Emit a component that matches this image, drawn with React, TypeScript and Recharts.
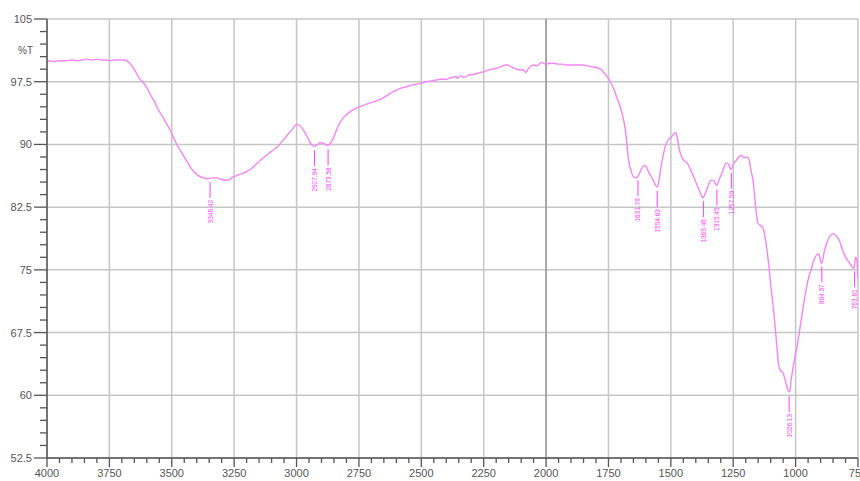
import React from "react"
import { ComposedChart, Line, Scatter, XAxis, YAxis, CartesianGrid, ReferenceLine } from "recharts"

// wavenumber (cm-1) and transmittance (%T)
const wavenumbers = [
  4000, 3975, 3950, 3925, 3900, 3880, 3860, 3840, 3820, 3800, 3780, 3760, 3750, 3730, 3710, 3690,
  3675, 3660, 3645, 3630, 3615, 3600, 3585, 3570, 3555, 3540, 3525, 3506, 3490, 3478, 3460, 3440,
  3426, 3410, 3395, 3374, 3355, 3340, 3318, 3300, 3278, 3265, 3254, 3230, 3210, 3197, 3170, 3145,
  3120, 3100, 3077, 3057, 3037, 3017, 3005, 2997, 2985, 2970, 2957, 2945, 2933, 2920, 2905, 2890,
  2878, 2868, 2855, 2844, 2830, 2812, 2790, 2770, 2756, 2730, 2700, 2680, 2664, 2640, 2620, 2600,
  2584, 2560, 2540, 2520, 2503, 2480, 2460, 2440, 2423, 2400, 2380, 2360, 2355, 2345, 2330, 2310,
  2290, 2262, 2240, 2220, 2200, 2180, 2165, 2154, 2140, 2120, 2102, 2090, 2082, 2072, 2060, 2050,
  2035, 2020, 2010, 2000, 1985, 1970, 1953, 1935, 1920, 1900, 1889, 1870, 1850, 1835, 1821, 1800,
  1781, 1769, 1755, 1741, 1727, 1713, 1700, 1689, 1680, 1669, 1660, 1649, 1640, 1632, 1620, 1608,
  1600, 1588, 1575, 1563, 1555, 1548, 1540, 1532, 1522, 1512, 1500, 1490, 1480, 1474, 1468, 1458,
  1448, 1435, 1420, 1405, 1392, 1380, 1372, 1365, 1352, 1340, 1330, 1316, 1305, 1291, 1279, 1268,
  1259, 1250, 1235, 1219, 1205, 1191, 1185, 1179, 1170, 1159, 1151, 1140, 1131, 1120, 1111, 1100,
  1087, 1077, 1067, 1058, 1051, 1040, 1030, 1024, 1018, 1005, 990, 970, 950, 938, 926, 915,
  906, 898, 894, 885, 870, 858, 846, 836, 826, 812, 798, 785, 775, 766, 760, 755,
  750,
]

const transmittance = [
  100.0, 99.9, 100.0, 100.0, 100.1, 100.0, 100.1, 100.2, 100.1, 100.2, 100.1, 100.1, 100.0, 100.1, 100.1, 100.1,
  99.9, 99.4, 98.7, 97.9, 97.4, 96.8, 95.9, 95.2, 94.2, 93.5, 92.7, 91.7, 90.6, 89.9, 89.0, 88.0,
  87.3, 86.7, 86.3, 86.0, 85.9, 86.0, 86.0, 85.8, 85.7, 85.9, 86.1, 86.4, 86.6, 86.8, 87.4, 88.1,
  88.7, 89.2, 89.7, 90.4, 91.1, 91.8, 92.3, 92.4, 92.2, 91.6, 90.9, 90.2, 89.8, 89.9, 90.2, 90.1,
  89.9, 90.0, 90.6, 91.4, 92.4, 93.2, 93.8, 94.2, 94.4, 94.7, 95.0, 95.2, 95.4, 95.8, 96.2, 96.5,
  96.7, 96.9, 97.1, 97.2, 97.3, 97.5, 97.6, 97.7, 97.8, 97.8, 98.0, 98.1, 97.9, 98.2, 98.0, 98.3,
  98.4, 98.6, 98.8, 99.0, 99.1, 99.3, 99.5, 99.5, 99.3, 99.0, 98.9, 98.9, 98.6, 99.0, 99.4, 99.5,
  99.4, 99.8, 99.7, 99.6, 99.7, 99.7, 99.6, 99.6, 99.5, 99.5, 99.5, 99.5, 99.5, 99.4, 99.3, 99.2,
  99.0, 98.6, 98.1, 97.4, 96.5, 95.3, 94.2, 92.9, 91.2, 88.1, 86.9, 86.1, 86.0, 86.2, 86.9, 87.5,
  87.4, 86.6, 86.0, 85.2, 84.9, 85.6, 87.2, 88.5, 89.8, 90.5, 90.8, 91.2, 91.4, 90.8, 89.7, 88.6,
  88.1, 87.8, 86.9, 85.9, 84.9, 84.1, 83.6, 83.9, 84.9, 85.7, 85.7, 85.1, 85.9, 86.9, 87.8, 87.6,
  87.0, 87.6, 88.2, 88.7, 88.4, 88.5, 88.0, 86.9, 85.6, 82.2, 80.6, 80.3, 80.0, 78.5, 76.5, 73.3,
  69.8, 66.5, 63.4, 62.9, 62.7, 61.6, 60.6, 60.4, 61.8, 64.2, 66.6, 70.5, 73.8, 75.0, 76.2, 76.8,
  76.9, 75.8, 75.9, 77.2, 78.6, 79.2, 79.3, 79.0, 78.6, 77.4, 76.4, 75.9, 75.4, 75.2, 76.5, 76.3,
  74.0,
]

// picked peaks
const peakPositions = [3346.42, 2927.94, 2873.58, 1631.78, 1554.63, 1369.46, 1315.45, 1257.59, 1026.13, 894.97, 763.61]
const peakValues = [86.0, 89.8, 89.9, 86.2, 84.9, 83.7, 85.1, 87.1, 60.4, 75.9, 75.3]

const xMajorTicks = [4000, 3750, 3500, 3250, 3000, 2750, 2500, 2250, 2000, 1750, 1500, 1250, 1000, 750]
const yMajorTicks = [52.5, 60, 67.5, 75, 82.5, 90, 97.5, 105]

const spectrum = wavenumbers.map((wn, i) => ({ wn, t: transmittance[i] }))
const peaks = peakPositions.map((wn, i) => ({ wn, t: peakValues[i], label: wn.toFixed(2) }))

// minor ticks: five subdivisions between majors
const xTicks: number[] = []
for (let v = 750; v <= 4000; v += 50) xTicks.push(v)
const yTicks: number[] = []
for (let i = 0; i <= 35; i++) yTicks.push(Math.round((52.5 + i * 1.5) * 10) / 10)

const FONT = "'Liberation Sans', Arial, sans-serif"
const AXIS = "#555"
const GRID = "#c6c6c6"
const TRACE = "#f584f5"
const PEAK = "#ff3cff"

const YTick = ({ x, y, payload }: any) => {
  const major = yMajorTicks.includes(payload.value)
  return (
    <g>
      <line x1={x - (major ? 13 : 7)} x2={x} y1={y} y2={y} stroke={AXIS} strokeWidth={1.3} />
      {major && (
        <text x={x - 15} y={y} dy={4} textAnchor="end" fontSize={11} fill={AXIS} fontFamily={FONT}>
          {payload.value}
        </text>
      )}
    </g>
  )
}

const XTick = ({ x, y, payload }: any) => {
  const major = xMajorTicks.includes(payload.value)
  return (
    <g>
      <line x1={x} x2={x} y1={y} y2={y + (major ? 9 : 5)} stroke={AXIS} strokeWidth={1.3} />
      {major && (
        <text x={x} y={y + 19} textAnchor="middle" fontSize={11} fill={AXIS} fontFamily={FONT}>
          {payload.value}
        </text>
      )}
    </g>
  )
}

const PeakMarker = ({ cx, cy, payload }: any) => {
  const top = cy + 22
  return (
    <g>
      <line x1={cx} x2={cx} y1={cy + 4} y2={cy + 20} stroke={PEAK} strokeWidth={1} />
      <text
        x={cx + 2.5}
        y={top}
        transform={`rotate(-90 ${cx + 2.5} ${top})`}
        textAnchor="end"
        fontSize={6.5}
        fill={PEAK}
        fontFamily={FONT}
      >
        {payload.label}
      </text>
    </g>
  )
}

const PercentT = ({ viewBox }: any) => (
  <text x={viewBox.x + 33} y={viewBox.y + 35} textAnchor="end" fontSize={10} fill={AXIS} fontFamily={FONT}>
    %T
  </text>
)

export default function App() {
  return (
    <div style={{ position: "absolute", left: 0, top: 0, background: "#fff" }}>
      <ComposedChart width={860} height={481} data={spectrum} margin={{ top: 19, right: 2, bottom: 0, left: 0 }}>
        <CartesianGrid
          stroke={GRID}
          strokeWidth={1.5}
          verticalValues={xMajorTicks}
          horizontalValues={yMajorTicks}
        />
        <ReferenceLine x={2000} stroke="#9a9a9a" strokeWidth={1.5} />
        <XAxis
          dataKey="wn"
          type="number"
          domain={[750, 4000]}
          reversed
          ticks={xTicks}
          interval={0}
          tick={<XTick />}
          tickLine={false}
          tickSize={0}
          tickMargin={0}
          height={23}
          axisLine={{ stroke: AXIS, strokeWidth: 1.5 }}
          allowDataOverflow
        />
        <YAxis
          type="number"
          domain={[52.5, 105]}
          ticks={yTicks}
          interval={0}
          tick={<YTick />}
          tickLine={false}
          tickSize={0}
          tickMargin={0}
          width={47}
          axisLine={{ stroke: AXIS, strokeWidth: 1.5 }}
          label={<PercentT />}
          allowDataOverflow
        />
        <Line
          dataKey="t"
          type="monotone"
          stroke={TRACE}
          strokeWidth={1.4}
          dot={false}
          isAnimationActive={false}
        />
        <Scatter data={peaks} dataKey="t" shape={<PeakMarker />} isAnimationActive={false} />
      </ComposedChart>
    </div>
  )
}
